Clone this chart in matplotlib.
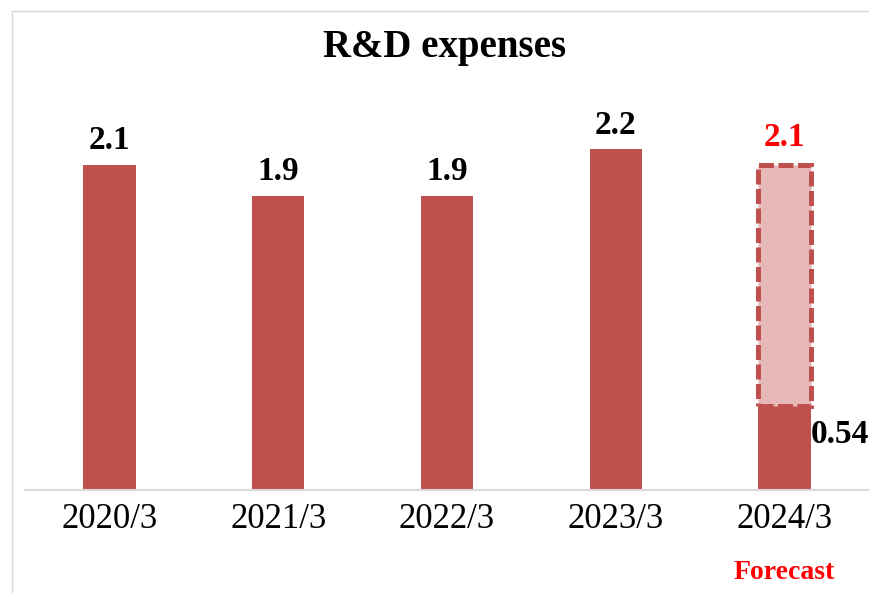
import matplotlib
matplotlib.use("Agg")
import matplotlib.pyplot as plt
from matplotlib.patches import Rectangle

categories = ["2020/3", "2021/3", "2022/3", "2023/3", "2024/3"]
actual = [2.1, 1.9, 1.9, 2.2, 0.54]
forecast_total = 2.1          # full-year forecast for the last period
forecast_label = "Forecast"

bar_color = "#C0504D"
forecast_fill = "#E6B8B7"
serif = ["Liberation Serif", "DejaVu Serif"]

fig = plt.figure(figsize=(8.69, 5.93), dpi=100)

# light frame around the chart area
fig.patches.append(Rectangle((12 / 869, -0.1), 1.2, 1 - 11 / 593 + 0.1,
                             transform=fig.transFigure, fill=False,
                             edgecolor="#D9D9D9", linewidth=1.0, zorder=0))

ax = fig.add_axes([25 / 869, 103 / 593, 1 - 25 / 869, (490 - 60) / 593])
x = list(range(len(categories)))
width = 0.31

ax.bar(x, actual, width=width, color=bar_color, zorder=2)

# forecast remainder stacked on top of the actual last-period bar
last = len(categories) - 1
ax.bar(last, forecast_total - actual[last], bottom=actual[last], width=width,
       color=forecast_fill, edgecolor=bar_color, linewidth=3.6,
       linestyle=(0, (3.0, 0.9)), zorder=3)

ax.set_xlim(-0.5, 4.5)
ax.set_ylim(0, (490 - 60) / 155)

for i, v in enumerate(actual[:-1]):
    ax.annotate(f"{v:.1f}", (i, v), xytext=(0, 6), textcoords="offset points",
                ha="center", va="bottom", fontsize=24, fontweight="bold",
                family=serif, color="black")
ax.annotate(f"{forecast_total:.1f}", (last, forecast_total), xytext=(0, 8),
            textcoords="offset points", ha="center", va="bottom", fontsize=24,
            fontweight="bold", family=serif, color="red")
ax.annotate(f"{actual[last]:.2f}", (last + width / 2, actual[last]),
            xytext=(0, -20), textcoords="offset points", ha="left",
            va="center", fontsize=24, fontweight="bold", family=serif,
            color="black")

ax.set_xticks(x)
ax.set_xticklabels(categories, fontsize=25, family=serif)
ax.tick_params(axis="x", length=0, pad=9)
ax.set_yticks([])
for side in ("left", "right", "top"):
    ax.spines[side].set_visible(False)
ax.spines["bottom"].set_color("#D9D9D9")
ax.spines["bottom"].set_linewidth(1.5)

ax.text(last, -0.53, forecast_label, ha="center", va="center", fontsize=20,
        fontweight="bold", family=serif, color="red",
        transform=ax.transData, clip_on=False)

fig.text(445 / 869, 1 - 48 / 593, "R&D expenses", ha="center", va="center",
         fontsize=28, fontweight="bold", family=serif)

fig.savefig("out.png", dpi=100, facecolor="white")
